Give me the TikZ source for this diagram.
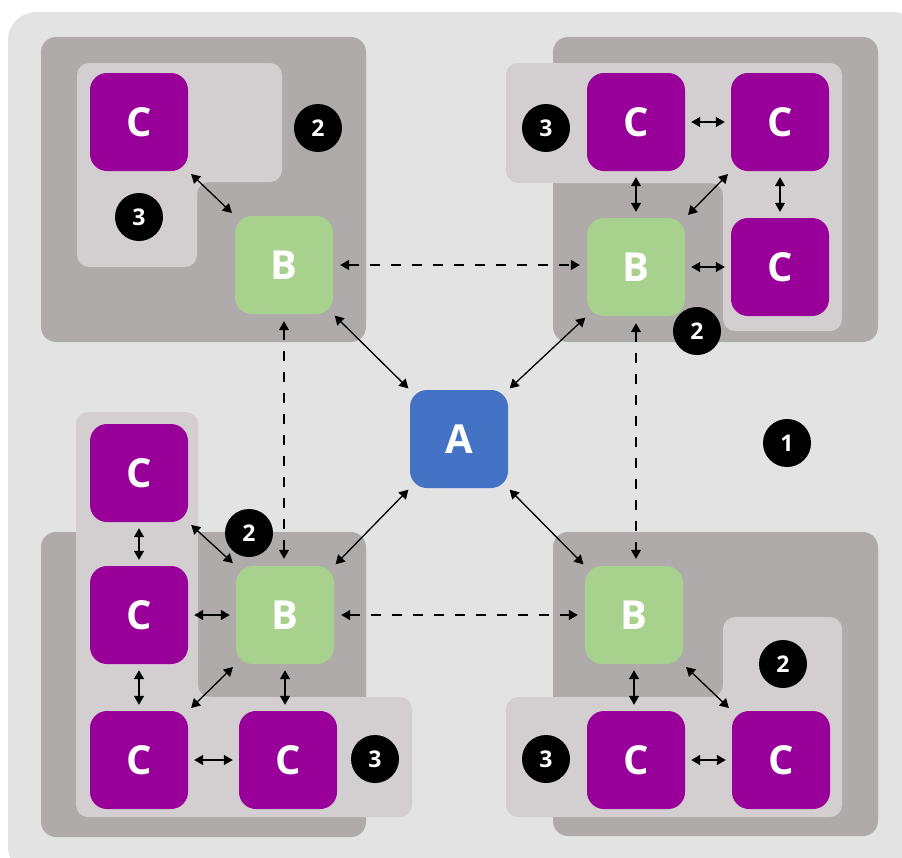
\documentclass[tikz,border=0pt]{standalone}
\usepackage{fontspec}
\setmainfont{Open Sans}
\usetikzlibrary{arrows.meta}
\definecolor{panel}{HTML}{E3E3E3}
\definecolor{zone}{HTML}{AFABAB}
\definecolor{group}{HTML}{D3CFD0}
\definecolor{cpurple}{HTML}{990099}
\definecolor{bgreen}{HTML}{A9D18E}
\definecolor{ablue}{HTML}{4472C4}
\begin{document}
\begin{tikzpicture}[x=1pt,y=-1pt,
  tile/.style={rectangle, rounded corners=17pt, minimum size=98pt, inner sep=0pt,
    text=white, font=\bfseries\fontsize{40}{42}\selectfont},
  ctile/.style={tile, fill=cpurple},
  btile/.style={tile, fill=bgreen},
  atile/.style={tile, fill=ablue},
  badge/.style={circle, fill=black, minimum size=48pt, inner sep=0pt,
    text=white, font=\bfseries\fontsize{23}{24}\selectfont},
  zonebox/.style={fill=zone, rounded corners=15pt},
  groupbox/.style={fill=group, rounded corners=12pt},
  link/.style={{Triangle[length=9pt,width=10pt]}-{Triangle[length=9pt,width=10pt]},
    line width=1.3pt, shorten >=4pt, shorten <=4pt},
  hublink/.style={link, shorten >=2pt, shorten <=2pt},
  peerlink/.style={link, dash pattern=on 10pt off 11pt, shorten >=7pt, shorten <=7pt}]

\clip (0,0) rectangle (902,857);
\fill[panel, rounded corners=28pt] (8,12) rectangle (920,875);

% four zones
\fill[zonebox] (41,37) rectangle (366,342);
\fill[zonebox] (553,37) rectangle (878,342);
\fill[zonebox] (41,532) rectangle (366,837);
\fill[zonebox] (553,532) rectangle (878,836);

% groups inside each zone
\fill[groupbox] (77,63) -- (282,63) -- (282,182) -- (197,182) -- (197,267) -- (77,267) -- cycle;
\fill[groupbox] (506,63) -- (842,63) -- (842,331) -- (723,331) -- (723,183) -- (506,183) -- cycle;
\fill[groupbox] (76,412) -- (198,412) -- (198,697) -- (412,697) -- (412,817) -- (76,817) -- cycle;
\fill[groupbox] (723,617) -- (842,617) -- (842,817) -- (506,817) -- (506,697) -- (723,697) -- cycle;

% hub
\node[atile] (a) at (459,439) {A};

% top-left zone
\node[btile] (btl) at (284,265) {B};
\node[ctile] (ctl) at (139,122) {C};
\node[badge] (ntl2) at (318,128) {2};
\node[badge] (ntl3) at (139,217) {3};

% top-right zone
\node[btile] (btr) at (636,267) {B};
\node[ctile] (ctr1) at (636,122) {C};
\node[ctile] (ctr2) at (780,122) {C};
\node[ctile] (ctr3) at (780,267) {C};
\node[badge] (ntr3) at (546,128) {3};
\node[badge] (ntr2) at (697,331) {2};

% bottom-left zone
\node[btile] (bbl) at (285,615) {B};
\node[ctile] (cbl1) at (139,473) {C};
\node[ctile] (cbl2) at (139,615) {C};
\node[ctile] (cbl3) at (139,760) {C};
\node[ctile] (cbl4) at (288,760) {C};
\node[badge] (nbl2) at (249,533) {2};
\node[badge] (nbl3) at (375,759) {3};

% bottom-right zone
\node[btile] (bbr) at (634,615) {B};
\node[ctile] (cbr1) at (636,760) {C};
\node[ctile] (cbr2) at (781,760) {C};
\node[badge] (nbr2) at (783,664) {2};
\node[badge] (nbr3) at (546,759) {3};

% outer label
\node[badge] (n1) at (787,443) {1};

% hub links
\draw[hublink] (a.north west) -- (btl.south east);
\draw[hublink] (a.north east) -- (btr.south west);
\draw[hublink] (a.south west) -- (bbl.north east);
\draw[hublink] (a.south east) -- (bbr.north west);

% peer links between B tiles
\draw[peerlink] (btl.east) -- (btl.east -| btr.west);
\draw[peerlink] (bbl.east) -- (bbl.east -| bbr.west);
\draw[peerlink] (btl.south) -- (btl.south |- bbl.north);
\draw[peerlink] (btr.south) -- (btr.south |- bbr.north);

% local links, top-left
\draw[link] (ctl.south east) -- (btl.north west);

% local links, top-right
\draw[link, shorten >=6pt, shorten <=6pt] (ctr1.east) -- (ctr2.west);
\draw[link, shorten >=6pt, shorten <=6pt] (ctr1.south) -- (btr.north);
\draw[link, shorten >=6pt, shorten <=6pt] (ctr2.south) -- (ctr3.north);
\draw[link, shorten >=6pt, shorten <=6pt] (btr.east) -- (ctr3.west);
\draw[link] (btr.north east) -- (ctr2.south west);

% local links, bottom-left
\draw[link, shorten >=6pt, shorten <=6pt] (cbl1.south) -- (cbl2.north);
\draw[link, shorten >=6pt, shorten <=6pt] (cbl2.south) -- (cbl3.north);
\draw[link, shorten >=6pt, shorten <=6pt] (cbl2.east) -- (bbl.west);
\draw[link, shorten >=6pt, shorten <=6pt] (cbl3.east) -- (cbl4.west);
\draw[link, shorten >=6pt, shorten <=6pt] (bbl.south) -- (bbl.south |- cbl4.north);
\draw[link] (cbl1.south east) -- (bbl.north west);
\draw[link] (bbl.south west) -- (cbl3.north east);

% local links, bottom-right
\draw[link, shorten >=6pt, shorten <=6pt] (bbr.south) -- (bbr.south |- cbr1.north);
\draw[link, shorten >=6pt, shorten <=6pt] (cbr1.east) -- (cbr2.west);
\draw[link] (bbr.south east) -- (cbr2.north west);
\end{tikzpicture}
\end{document}
